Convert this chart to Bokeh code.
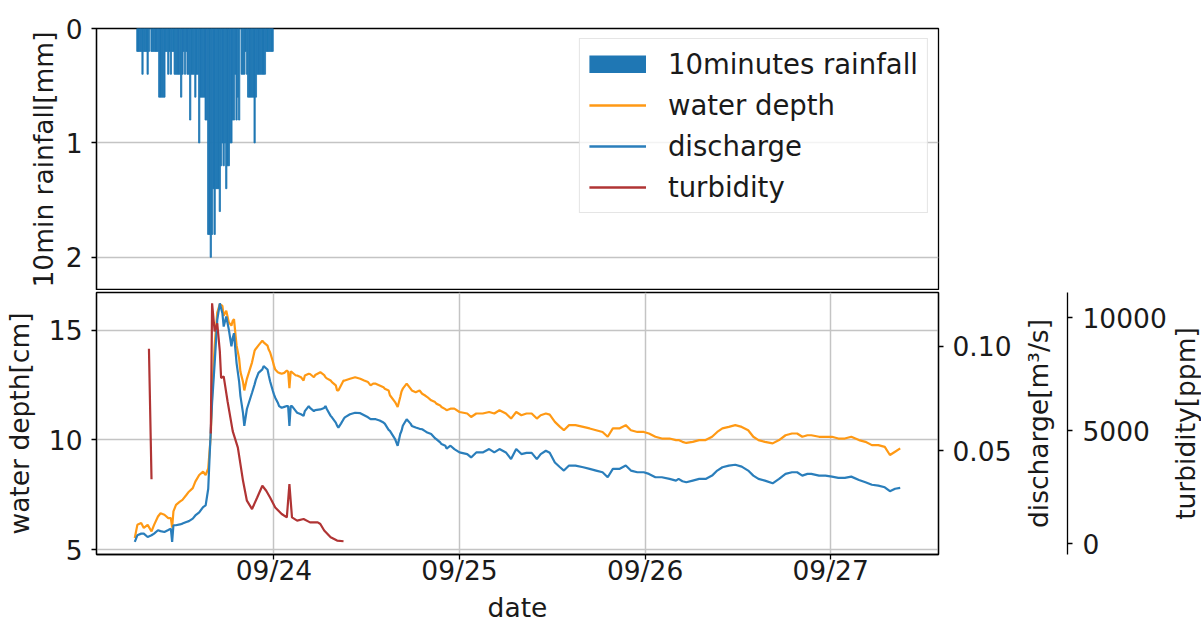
import numpy as np
import pandas as pd
from bokeh.layouts import column, row
from bokeh.models import (Range1d, LinearAxis, FixedTicker, DatetimeTickFormatter,
                          NumeralTickFormatter, Legend, LegendItem)
from bokeh.plotting import figure
from bokeh.embed import file_html
from bokeh.resources import INLINE

FONT = "DejaVu Sans"
FS = "26.5px"
INK = "#1a1a1a"

RAIN_C = "#1f77b4"
DEPTH_C = "#ff9914"
DISCH_C = "#2a7ebb"
TURB_C = "#b03434"
GRID_C = "#c4c4c4"

# ---------------------------------------------------------------------------
# 10-minute rainfall [mm]; first interval centred on rain_start
rain_start = "2019-09-23 06:20"
rain_mm = [
    0.2, 0.2, 0.2, 0.2, 0.4, 0.2, 0.2, 0.2, 0.4, 0.2,
    0.0, 0.2, 0.2, 0.2, 0.2, 0.2, 0.2, 0.6, 0.6, 0.6,
    0.6, 0.6, 0.2, 0.2, 0.4, 0.2, 0.4, 0.2, 0.2, 0.4,
    0.4, 0.4, 0.4, 0.4, 0.6, 0.4, 0.2, 0.4, 0.2, 0.4,
    0.4, 0.8, 0.4, 0.4, 0.4, 0.6, 0.4, 0.4, 1.0, 0.6,
    0.6, 0.6, 0.6, 0.8, 0.8, 1.8, 1.8, 2.0, 1.8, 1.4,
    1.8, 1.4, 1.4, 1.4, 1.6, 1.2, 1.0, 1.2, 1.0, 1.4,
    1.2, 1.2, 1.0, 1.0, 0.8, 0.8, 0.4, 0.8, 0.6, 0.8,
    0.0, 0.4, 0.4, 0.4, 0.2, 0.4, 0.6, 0.6, 0.6, 0.6,
    0.6, 1.0, 0.6, 0.4, 0.4, 0.4, 0.4, 0.4, 0.4, 0.4,
    0.2, 0.2, 0.2, 0.2, 0.2, 0.2,
]

# Gauging record: time, water depth [cm], discharge [m3/s]
obs_time = [
    # 09/23
    "2019-09-23 06:00", "2019-09-23 06:20", "2019-09-23 06:50", "2019-09-23 07:10",
    "2019-09-23 07:40", "2019-09-23 08:10", "2019-09-23 08:30", "2019-09-23 09:00",
    "2019-09-23 09:20", "2019-09-23 09:50", "2019-09-23 10:20", "2019-09-23 10:40",
    "2019-09-23 10:50", "2019-09-23 11:00", "2019-09-23 11:20", "2019-09-23 11:50",
    "2019-09-23 12:10", "2019-09-23 12:40", "2019-09-23 13:00", "2019-09-23 13:30",
    "2019-09-23 13:50", "2019-09-23 14:20", "2019-09-23 14:50", "2019-09-23 15:10",
    "2019-09-23 15:30", "2019-09-23 15:50", "2019-09-23 16:00", "2019-09-23 16:20",
    "2019-09-23 16:40", "2019-09-23 17:00", "2019-09-23 17:20", "2019-09-23 17:30",
    "2019-09-23 17:50", "2019-09-23 18:10", "2019-09-23 18:30", "2019-09-23 18:40",
    "2019-09-23 18:50", "2019-09-23 19:00", "2019-09-23 19:10", "2019-09-23 19:30",
    "2019-09-23 19:40", "2019-09-23 20:00", "2019-09-23 20:10", "2019-09-23 20:30",
    "2019-09-23 21:10", "2019-09-23 21:30", "2019-09-23 21:40", "2019-09-23 22:00",
    "2019-09-23 22:30", "2019-09-23 22:40", "2019-09-23 23:10", "2019-09-23 23:20",
    "2019-09-23 23:30", "2019-09-23 23:50",
    # 09/24
    "2019-09-24 00:00", "2019-09-24 00:10", "2019-09-24 00:30", "2019-09-24 00:40",
    "2019-09-24 01:00", "2019-09-24 01:20", "2019-09-24 01:40", "2019-09-24 01:50",
    "2019-09-24 02:00", "2019-09-24 02:10", "2019-09-24 02:20", "2019-09-24 02:50",
    "2019-09-24 03:00", "2019-09-24 03:30", "2019-09-24 03:50", "2019-09-24 04:00",
    "2019-09-24 04:30", "2019-09-24 04:40", "2019-09-24 05:10", "2019-09-24 05:20",
    "2019-09-24 06:00", "2019-09-24 06:30", "2019-09-24 06:40", "2019-09-24 06:50",
    "2019-09-24 07:20", "2019-09-24 07:30", "2019-09-24 08:00", "2019-09-24 08:10",
    "2019-09-24 08:20", "2019-09-24 08:40", "2019-09-24 09:00", "2019-09-24 09:10",
    "2019-09-24 09:50", "2019-09-24 10:30", "2019-09-24 11:10", "2019-09-24 11:40",
    "2019-09-24 12:10", "2019-09-24 12:30", "2019-09-24 12:50", "2019-09-24 13:10",
    "2019-09-24 13:40", "2019-09-24 14:10", "2019-09-24 14:20", "2019-09-24 14:50",
    "2019-09-24 15:00", "2019-09-24 15:40", "2019-09-24 16:00", "2019-09-24 16:20",
    "2019-09-24 16:30", "2019-09-24 16:40", "2019-09-24 17:10", "2019-09-24 17:40",
    "2019-09-24 17:50", "2019-09-24 18:20", "2019-09-24 18:50", "2019-09-24 19:10",
    "2019-09-24 19:30", "2019-09-24 19:50", "2019-09-24 20:20", "2019-09-24 20:50",
    "2019-09-24 21:00", "2019-09-24 21:30", "2019-09-24 21:40", "2019-09-24 22:10",
    "2019-09-24 22:20", "2019-09-24 22:50", "2019-09-24 23:20",
    # 09/25
    "2019-09-25 00:00", "2019-09-25 01:00", "2019-09-25 01:30", "2019-09-25 02:10",
    "2019-09-25 03:00", "2019-09-25 03:50", "2019-09-25 04:30", "2019-09-25 05:10",
    "2019-09-25 06:00", "2019-09-25 06:40", "2019-09-25 07:20", "2019-09-25 08:00",
    "2019-09-25 08:40", "2019-09-25 09:20", "2019-09-25 10:00", "2019-09-25 10:30",
    "2019-09-25 11:10", "2019-09-25 11:40", "2019-09-25 12:20", "2019-09-25 13:00",
    "2019-09-25 13:30", "2019-09-25 14:10", "2019-09-25 15:00", "2019-09-25 16:00",
    "2019-09-25 16:50", "2019-09-25 17:40", "2019-09-25 18:30", "2019-09-25 19:10",
    "2019-09-25 19:50", "2019-09-25 20:40", "2019-09-25 21:30", "2019-09-25 22:10",
    "2019-09-25 23:00", "2019-09-25 23:50",
    # 09/26
    "2019-09-26 00:30", "2019-09-26 01:20", "2019-09-26 02:10", "2019-09-26 03:10",
    "2019-09-26 04:00", "2019-09-26 04:20", "2019-09-26 04:50", "2019-09-26 05:20",
    "2019-09-26 06:10", "2019-09-26 07:00", "2019-09-26 07:50", "2019-09-26 08:40",
    "2019-09-26 09:20", "2019-09-26 10:00", "2019-09-26 10:50", "2019-09-26 11:40",
    "2019-09-26 12:30", "2019-09-26 13:20", "2019-09-26 14:00", "2019-09-26 14:40",
    "2019-09-26 15:30", "2019-09-26 16:30", "2019-09-26 17:20", "2019-09-26 18:10",
    "2019-09-26 19:00", "2019-09-26 19:40", "2019-09-26 20:20", "2019-09-26 21:00",
    "2019-09-26 21:30", "2019-09-26 22:30", "2019-09-26 23:20",
    # 09/27
    "2019-09-27 00:10", "2019-09-27 01:00", "2019-09-27 01:50", "2019-09-27 02:40",
    "2019-09-27 03:40", "2019-09-27 04:30", "2019-09-27 05:20", "2019-09-27 06:10",
    "2019-09-27 07:00", "2019-09-27 07:40", "2019-09-27 08:20", "2019-09-27 09:00",
]

water_depth_cm = [
    # 09/23
    5.53, 6.13, 6.21, 5.99, 6.13, 5.83, 6.13, 6.51, 6.66, 6.59, 6.44, 6.44,
    6.00, 6.74, 7.04, 7.19, 7.27, 7.49, 7.64, 7.80, 8.10, 8.40, 8.55, 8.40,
    8.70, 10.21, 12.03, 14.29, 15.80, 16.18, 16.10, 15.65, 15.88, 15.35, 15.20, 15.42,
    15.50, 14.89, 14.30, 13.69, 13.10, 12.63, 12.25, 12.78, 13.53, 14.06, 14.15, 14.30,
    14.52, 14.44, 14.29, 14.10, 13.99, 13.60,
    # 09/24
    13.38, 13.20, 13.08, 13.05, 13.01, 13.05, 13.16, 13.10, 12.35, 13.12, 13.08, 12.93,
    12.93, 12.85, 12.70, 12.93, 13.01, 13.00, 12.85, 12.95, 13.08, 12.95, 12.85, 12.80,
    12.70, 12.63, 12.48, 12.25, 12.25, 12.48, 12.70, 12.70, 12.78, 12.85, 12.78, 12.70,
    12.63, 12.48, 12.56, 12.56, 12.48, 12.40, 12.33, 12.25, 12.03, 11.72, 11.50, 11.95,
    12.20, 12.33, 12.56, 12.33, 12.25, 12.17, 12.25, 12.10, 12.03, 11.95, 11.80, 11.72,
    11.65, 11.57, 11.50, 11.40, 11.35, 11.42, 11.42,
    # 09/25
    11.27, 11.20, 11.04, 11.20, 11.20, 11.27, 11.20, 11.35, 11.20, 10.97, 11.27, 11.12,
    11.20, 11.20, 10.97, 11.12, 11.20, 11.15, 10.82, 10.59, 10.44, 10.67, 10.67, 10.59,
    10.52, 10.44, 10.36, 10.14, 10.52, 10.52, 10.67, 10.44, 10.36, 10.36,
    # 09/26
    10.29, 10.14, 10.06, 10.06, 9.99, 9.99, 9.91, 9.86, 9.91, 9.99, 9.99, 10.14,
    10.36, 10.52, 10.59, 10.67, 10.59, 10.44, 10.14, 9.99, 9.91, 9.84, 9.99, 10.21,
    10.29, 10.29, 10.14, 10.21, 10.21, 10.14, 10.14,
    # 09/27
    10.14, 10.06, 10.06, 10.14, 9.99, 9.91, 9.76, 9.76, 9.68, 9.31, 9.46, 9.61,
]

discharge_m3s = [
    # 09/23
    0.0063, 0.0095, 0.0103, 0.0103, 0.0087, 0.0095, 0.0103, 0.0119, 0.0115, 0.0111, 0.0120, 0.0127,
    0.0063, 0.0143, 0.0143, 0.0147, 0.0151, 0.0159, 0.0163, 0.0175, 0.0190, 0.0205, 0.0230, 0.0238,
    0.0318, 0.0603, 0.0730, 0.0920, 0.1127, 0.1206, 0.1159, 0.1095, 0.1143, 0.1080, 0.1000, 0.1040,
    0.1063, 0.0990, 0.0920, 0.0830, 0.0762, 0.0680, 0.0619, 0.0700, 0.0778, 0.0818, 0.0841, 0.0873,
    0.0890, 0.0905, 0.0889, 0.0860, 0.0833, 0.0790,
    # 09/24
    0.0770, 0.0754, 0.0730, 0.0714, 0.0706, 0.0710, 0.0714, 0.0714, 0.0619, 0.0714, 0.0714, 0.0690,
    0.0682, 0.0675, 0.0667, 0.0690, 0.0714, 0.0705, 0.0690, 0.0695, 0.0698, 0.0705, 0.0714, 0.0700,
    0.0667, 0.0660, 0.0635, 0.0620, 0.0611, 0.0630, 0.0651, 0.0660, 0.0675, 0.0682, 0.0680, 0.0670,
    0.0660, 0.0651, 0.0651, 0.0651, 0.0645, 0.0635, 0.0630, 0.0600, 0.0595, 0.0556, 0.0524, 0.0580,
    0.0595, 0.0620, 0.0651, 0.0630, 0.0619, 0.0611, 0.0605, 0.0603, 0.0595, 0.0587, 0.0580, 0.0560,
    0.0556, 0.0540, 0.0532, 0.0524, 0.0510, 0.0524, 0.0508,
    # 09/25
    0.0492, 0.0484, 0.0468, 0.0492, 0.0492, 0.0508, 0.0492, 0.0508, 0.0492, 0.0460, 0.0508, 0.0484,
    0.0490, 0.0490, 0.0460, 0.0484, 0.0500, 0.0490, 0.0444, 0.0421, 0.0405, 0.0429, 0.0429, 0.0421,
    0.0413, 0.0405, 0.0397, 0.0373, 0.0413, 0.0413, 0.0429, 0.0405, 0.0397, 0.0397,
    # 09/26
    0.0389, 0.0373, 0.0373, 0.0365, 0.0357, 0.0365, 0.0354, 0.0349, 0.0357, 0.0365, 0.0365, 0.0381,
    0.0405, 0.0421, 0.0429, 0.0433, 0.0424, 0.0405, 0.0381, 0.0365, 0.0357, 0.0344, 0.0365, 0.0389,
    0.0397, 0.0397, 0.0381, 0.0389, 0.0389, 0.0381, 0.0381,
    # 09/27
    0.0376, 0.0370, 0.0370, 0.0376, 0.0360, 0.0349, 0.0337, 0.0333, 0.0325, 0.0306, 0.0318, 0.0322,
]

# Turbidity sensor [ppm]; NaN marks the logger gap
turb_time = [
    "2019-09-23 07:50", "2019-09-23 08:10", "2019-09-23 12:00",
    "2019-09-23 15:50", "2019-09-23 16:00", "2019-09-23 16:20", "2019-09-23 16:40",
    "2019-09-23 17:00", "2019-09-23 17:10", "2019-09-23 17:30", "2019-09-23 18:00",
    "2019-09-23 18:40", "2019-09-23 19:20", "2019-09-23 20:00", "2019-09-23 20:30",
    "2019-09-23 21:10", "2019-09-23 21:50", "2019-09-23 22:30", "2019-09-23 23:00",
    "2019-09-23 23:30", "2019-09-24 00:10", "2019-09-24 01:00", "2019-09-24 01:40",
    "2019-09-24 02:00", "2019-09-24 02:20", "2019-09-24 03:00", "2019-09-24 03:50",
    "2019-09-24 04:40", "2019-09-24 05:40", "2019-09-24 06:00", "2019-09-24 06:30",
    "2019-09-24 07:20", "2019-09-24 08:10", "2019-09-24 09:00",
]
turbidity_ppm = [
    8630, 2860, float("nan"),
    4880, 10640, 9400, 9760,
    8515, 7340, 7410, 6310,
    4990, 4255, 2790, 1910,
    1540, 2050, 2570, 2350,
    2050, 1610, 1320, 1170,
    2640, 1170, 1030, 1100,
    950, 950, 880, 590,
    290, 145, 115,
]

date_ticks = ["2019-09-24", "2019-09-25", "2019-09-26", "2019-09-27"]
rain_ticks = [0, 1, 2]
depth_ticks = [5, 10, 15]
discharge_ticks = [0.05, 0.10]
turbidity_ticks = [0, 5000, 10000]

# ---------------------------------------------------------------------------
def ms(ts):
    return pd.Timestamp(ts).timestamp() * 1000.0


rain_t = pd.date_range(rain_start, periods=len(rain_mm), freq="10min")
obs_t = pd.to_datetime(obs_time)
turb_t = pd.to_datetime(turb_time)

t0, t1 = obs_t.min(), obs_t.max()
pad = (t1 - t0) * 0.05
x_range = Range1d(start=ms(t0 - pad), end=ms(t1 + pad))
date_tick_ms = [ms(d) for d in date_ticks]

depth_range = Range1d(4.78, 16.71)
q_range = Range1d(0.0003, 0.1258)
turb_range = Range1d(-470, 11120)

LOW_H, LOW_TOP, LOW_BOTTOM = 335, 2, 70


def style_axis(ax, ticks):
    ax.ticker = FixedTicker(ticks=ticks)
    ax.axis_line_color = "black"
    ax.axis_line_width = 1.3
    ax.major_tick_line_color = "black"
    ax.major_tick_line_width = 1.3
    ax.major_tick_out = 5
    ax.major_tick_in = 0
    ax.minor_tick_line_color = None
    ax.major_label_standoff = 9
    ax.major_label_text_font = FONT
    ax.major_label_text_font_size = FS
    ax.major_label_text_color = INK
    ax.axis_label_text_font = FONT
    ax.axis_label_text_font_size = FS
    ax.axis_label_text_font_style = "normal"
    ax.axis_label_text_color = INK


def title_only_axis(ax, text, standoff):
    # an axis that carries just its title, no line and no ticks
    style_axis(ax, [])
    ax.axis_line_color = None
    ax.major_tick_out = 0
    ax.major_label_standoff = 0
    ax.axis_label = text
    ax.axis_label_standoff = standoff


def style_frame(fig):
    fig.outline_line_color = "black"
    fig.outline_line_width = 1.3
    fig.background_fill_color = "white"
    fig.border_fill_color = "white"


def strip(width, left, right):
    # narrow companion panel sharing the hydrograph's vertical layout
    f = figure(width=width, height=LOW_H, x_range=Range1d(0, 1), y_range=turb_range,
               x_axis_location=None, output_backend="svg", toolbar_location=None,
               min_border_left=left, min_border_right=right,
               min_border_top=LOW_TOP, min_border_bottom=LOW_BOTTOM)
    f.outline_line_color = None
    f.background_fill_color = "white"
    f.border_fill_color = "white"
    f.grid.visible = False
    return f


# --- rainfall panel --------------------------------------------------------
p_rain = figure(width=1201, height=290, x_axis_type="datetime", x_range=x_range,
                y_range=Range1d(2.29, 0), x_axis_location=None,
                output_backend="svg", toolbar_location=None,
                min_border_left=96, min_border_right=263,
                min_border_top=28, min_border_bottom=0)
style_frame(p_rain)
p_rain.vbar(x=rain_t, top=rain_mm, bottom=0, width=600000,
            fill_color=RAIN_C, line_color=RAIN_C, line_width=0.8)
style_axis(p_rain.yaxis[0], rain_ticks)
p_rain.yaxis.axis_label = "10min rainfall[mm]"
p_rain.yaxis.axis_label_standoff = 4
p_rain.xgrid.visible = False
p_rain.ygrid.ticker = FixedTicker(ticks=rain_ticks)
p_rain.ygrid.grid_line_color = GRID_C
p_rain.ygrid.grid_line_width = 1.5

# legend keys (no data of their own)
key_rain = p_rain.line(x=[np.nan], y=[np.nan], line_color=RAIN_C, line_width=18,
                       line_cap="butt")
key_depth = p_rain.line(x=[np.nan], y=[np.nan], line_color=DEPTH_C, line_width=2.5)
key_disch = p_rain.line(x=[np.nan], y=[np.nan], line_color=DISCH_C, line_width=2.5)
key_turb = p_rain.line(x=[np.nan], y=[np.nan], line_color=TURB_C, line_width=2.5)

legend = Legend(
    items=[LegendItem(label="10minutes rainfall", renderers=[key_rain]),
           LegendItem(label="water depth", renderers=[key_depth]),
           LegendItem(label="discharge", renderers=[key_disch]),
           LegendItem(label="turbidity", renderers=[key_turb])],
    location="top_right", margin=10, padding=9, spacing=9,
    label_height=30, glyph_width=57, glyph_height=18, label_standoff=22,
    label_text_font=FONT, label_text_font_size="27.5px", label_text_color=INK,
    border_line_color="#cccccc", border_line_width=1,
    background_fill_color="white", background_fill_alpha=0.8)
p_rain.add_layout(legend)

# --- hydrograph panel ------------------------------------------------------
p = figure(width=1020, height=LOW_H, x_axis_type="datetime", x_range=x_range,
           y_range=depth_range, output_backend="svg", toolbar_location=None,
           min_border_left=96, min_border_right=82,
           min_border_top=LOW_TOP, min_border_bottom=LOW_BOTTOM)
style_frame(p)
p.extra_y_ranges = {"q": q_range, "turb": turb_range}

p.line(x=obs_t, y=water_depth_cm, line_color=DEPTH_C, line_width=2.2)
p.line(x=obs_t, y=discharge_m3s, y_range_name="q", line_color=DISCH_C, line_width=2.2)
p.line(x=turb_t, y=turbidity_ppm, y_range_name="turb", line_color=TURB_C, line_width=2.2)

style_axis(p.yaxis[0], depth_ticks)
p.yaxis[0].axis_label = "water depth[cm]"
p.yaxis[0].axis_label_standoff = 11

xax = p.xaxis[0]
style_axis(xax, date_tick_ms)
xax.formatter = DatetimeTickFormatter(days="%m/%d", months="%m/%d", hours="%m/%d",
                                      years="%m/%d")
xax.major_label_standoff = -5
xax.axis_label = "date"
xax.axis_label_standoff = 3

ax_q = LinearAxis(y_range_name="q", formatter=NumeralTickFormatter(format="0.00"))
style_axis(ax_q, discharge_ticks)
p.add_layout(ax_q, "right")

p.xgrid.ticker = FixedTicker(ticks=date_tick_ms)
p.ygrid.ticker = FixedTicker(ticks=depth_ticks)
for g in (p.xgrid, p.ygrid):
    g.grid_line_color = GRID_C
    g.grid_line_width = 1.5

# discharge title + turbidity scale
p_turb = strip(width=148, left=45, right=102)
title_only_axis(p_turb.yaxis[0], "discharge[m³/s]", 13)
ax_t = LinearAxis(formatter=NumeralTickFormatter(format="0"))
style_axis(ax_t, turbidity_ticks)
ax_t.major_label_standoff = 10
p_turb.add_layout(ax_t, "right")

# turbidity title
p_tt = strip(width=33, left=32, right=0)
title_only_axis(p_tt.yaxis[0], "turbidity[ppm]", 1)

layout = column(p_rain, row(p, p_turb, p_tt, spacing=0), spacing=0)
open("out.html", "w").write(file_html(layout, INLINE))
